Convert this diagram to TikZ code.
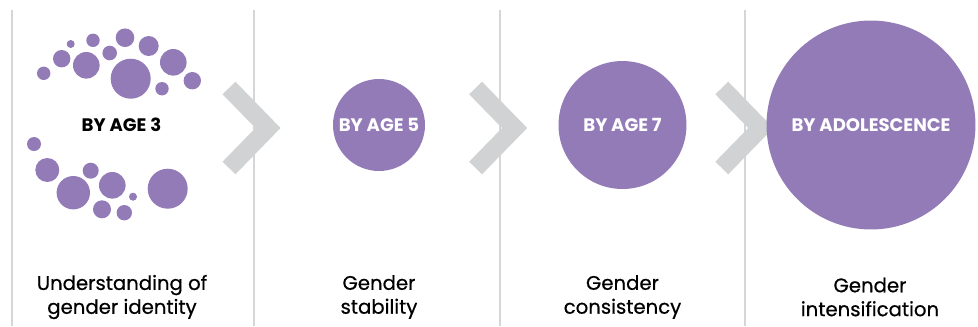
\documentclass[tikz,border=0pt]{standalone}
\usepackage{fontspec}
\setmainfont{Poppins}
\newfontfamily\captionfont{Poppins}[FakeBold=0.6]
\usetikzlibrary{positioning}
\definecolor{agePurple}{RGB}{147,123,184}
\definecolor{chevronGray}{RGB}{209,210,212}
\definecolor{dividerGray}{RGB}{214,214,214}

\begin{document}
\begin{tikzpicture}[
    x=0.02cm, y=-0.02cm,
    stage/.style={circle, fill=agePurple, inner sep=0pt, text=white, font=\fontsize{10.3}{12}\selectfont\bfseries},
    agelabel/.style={font=\fontsize{10.3}{12}\selectfont\bfseries},
    caption/.style={align=center, font=\captionfont\fontsize{11.2}{13.6}\selectfont},
    divider/.style={draw=dividerGray, line width=1.5pt},
    chevron/.style={draw=chevronGray, line width=18*0.02cm, miter limit=4, line join=miter}
]
\useasboundingbox (0,0) rectangle (978,326);

% Dividers
\draw[divider] (12,10) -- (12,326);
\draw[divider] (254,10) -- (254,326);
\draw[divider] (500,10) -- (500,326);
\draw[divider] (745,10) -- (745,326);

% Chevrons
\draw[chevron] (229,88) -- (268,128) -- (229,168);
\draw[chevron] (475.6,88) -- (514.6,128) -- (475.6,168);
\draw[chevron] (721.8,88) -- (760.8,128) -- (721.8,168);

% By age 3 dots
\foreach \px/\py/\r in {43.7/73.3/6.7, 61.7/58.7/8.7, 70.7/44/4, 86.3/65.3/13.3,
    93/40.3/6.7, 109.7/53/7.3, 125/37.7/9.3, 130.7/78.7/20, 148.7/46/10,
    162/88.7/6.7, 173.3/62.3/13.3, 192.3/80.7/8.7,
    34/144/7, 47.3/170/12, 73.3/192.7/16.7, 90.7/170.7/8, 112.3/185.3/13.3,
    102/209.3/9, 124.3/212.7/7.7, 133/196.7/4, 167.7/188.7/20}
  \fill[agePurple] (\px,\py) circle[radius=\r];

\node[agelabel] (age3) at (121.5,125) {BY AGE 3};
\node[stage, minimum size=1.84cm] (age5) at (379,125) {BY AGE 5};
\node[stage, minimum size=2.56cm] (age7) at (622.5,125) {BY AGE 7};
\node[stage, minimum size=4.18cm] (adol) at (871,125) {BY ADOLESCENCE};

% Captions
\node[caption] (identity) at (122,297) {Understanding of\\gender identity};
\node[caption] (stability) at (379,297) {Gender\\stability};
\node[caption] (consistency) at (622.5,297) {Gender\\consistency};
\node[caption] (intensification) at (870,297) {Gender\\intensification};

\end{tikzpicture}
\end{document}
